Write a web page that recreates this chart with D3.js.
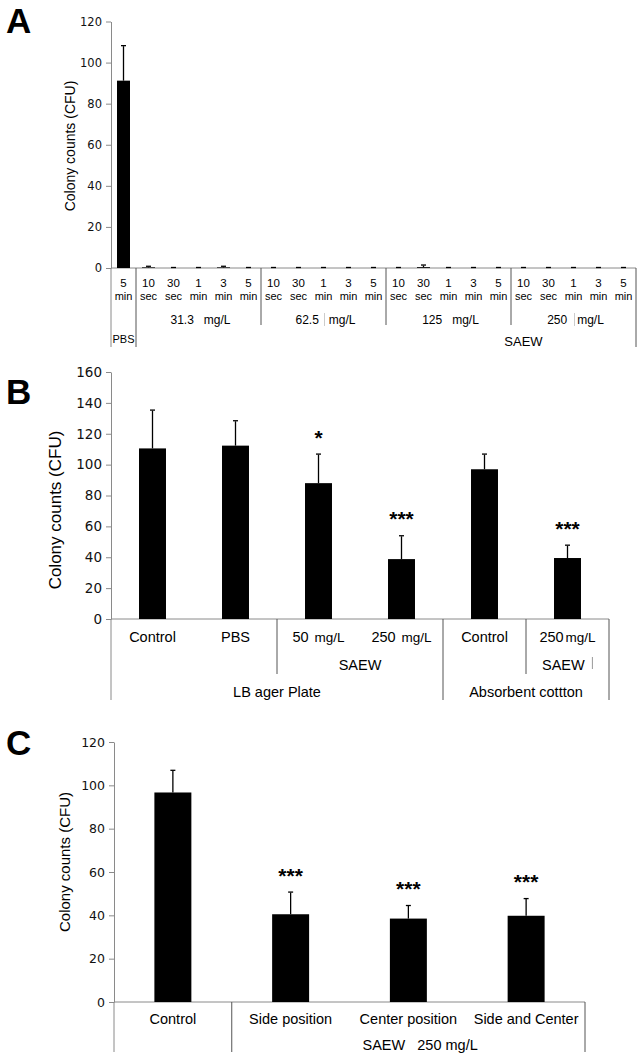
<!DOCTYPE html>
<html>
<head>
<meta charset="utf-8">
<script src="https://cdn.jsdelivr.net/npm/d3@7"></script>
<style>
  body { margin: 0; background: #fff; }
  text { font-family: "Liberation Sans", Arial, sans-serif; fill: #000; }
  .tick text { font-family: "DejaVu Sans", sans-serif; fill: #111; }
</style>
</head>
<body>
<div id="chart"></div>
<script>
// ---- Panel A: exposure time x concentration ----
const aNums = ["5","10","30","1","3","5","10","30","1","3","5","10","30","1","3","5","10","30","1","3","5"];
const aUnits = ["min","sec","sec","min","min","min","sec","sec","min","min","min","sec","sec","min","min","min","sec","sec","min","min","min"];
const aGroups = ["31.3", "62.5", "125", "250"];
const aValues = [91.2, 0.3, 0, 0, 0.3, 0, 0, 0, 0, 0, 0, 0, 0.4, 0, 0, 0, 0, 0, 0, 0, 0];
const aErrors = [16.8, 0.3, 0, 0, 0.3, 0, 0, 0, 0, 0, 0, 0, 0.8, 0, 0, 0, 0, 0, 0, 0, 0];
const aTicks = [0, 20, 40, 60, 80, 100, 120];

// ---- Panel B: plate vs absorbent cotton ----
const bLabels = ["Control", "PBS", "50", "250", "Control", "250"];
const bValues = [110.5, 112.3, 88, 38.8, 97, 39.5];
const bErrors = [24.5, 15.8, 18.5, 14.8, 9.5, 8];
const bStars = ["", "", "*", "***", "", "***"];
const bTicks = [0, 20, 40, 60, 80, 100, 120, 140, 160];

// ---- Panel C: position of SAEW ----
const cLabels = ["Control", "Side position", "Center position", "Side and Center"];
const cValues = [96.7, 40.5, 38.5, 39.8];
const cErrors = [10, 10, 5.8, 7.7];
const cStars = ["", "***", "***", "***"];
const cTicks = [0, 20, 40, 60, 80, 100, 120];

const width = 640, height = 1055;
const axisColor = "#8a8a8a";
const lineColor = "#555";

const svg = d3.select("#chart").append("svg")
    .attr("width", width)
    .attr("height", height)
    .style("background", "#fff");

// bars + error bars + significance stars
function drawBars(g, x, y, values, errors, stars, capW) {
    const idx = d3.range(values.length);
    g.selectAll(".bar").data(idx).enter().append("rect")
        .attr("x", i => x(i))
        .attr("y", i => y(values[i]))
        .attr("width", x.bandwidth())
        .attr("height", i => y(0) - y(values[i]))
        .attr("fill", "#000");
    g.selectAll(".err").data(idx).enter().append("line")
        .attr("x1", i => x(i) + x.bandwidth() / 2)
        .attr("x2", i => x(i) + x.bandwidth() / 2)
        .attr("y1", i => y(values[i]))
        .attr("y2", i => y(values[i] + errors[i]))
        .attr("stroke", "#000").attr("stroke-width", 1.3);
    g.selectAll(".cap").data(idx).enter().append("line")
        .attr("x1", i => x(i) + x.bandwidth() / 2 - capW / 2)
        .attr("x2", i => x(i) + x.bandwidth() / 2 + capW / 2)
        .attr("y1", i => y(values[i] + errors[i]) - 0.5)
        .attr("y2", i => y(values[i] + errors[i]) - 0.5)
        .attr("stroke", "#000").attr("stroke-width", 1.3);
    if (stars) {
        g.selectAll(".star").data(idx.filter(i => stars[i])).enter().append("text")
            .attr("x", i => x(i) + x.bandwidth() / 2)
            .attr("y", i => y(values[i] + errors[i]) - 10)
            .attr("text-anchor", "middle")
            .style("font-size", "21px")
            .style("font-weight", "bold")
            .text(i => stars[i]);
    }
}

function drawYAxis(g, y, ticks, fontSize) {
    const ax = g.append("g")
        .attr("transform", `translate(${y.xPos},0)`)
        .call(d3.axisLeft(y).tickValues(ticks).tickSize(5).tickSizeOuter(0).tickPadding(4));
    ax.select(".domain").attr("stroke", axisColor);
    ax.selectAll(".tick line").attr("stroke", axisColor);
    ax.selectAll(".tick text").style("font-size", fontSize + "px");
    return ax;
}

function vline(g, xv, y1, y2, color) {
    g.append("line").attr("x1", xv).attr("x2", xv).attr("y1", y1).attr("y2", y2)
        .attr("stroke", color || lineColor).attr("stroke-width", 1);
}

function panelLetter(txt, yb) {
    svg.append("text").attr("x", 6).attr("y", yb)
        .style("font-size", "35px").style("font-weight", "bold").style("fill", "#000")
        .text(txt);
}

function yTitle(g, xc, yc, size) {
    g.append("text")
        .attr("transform", `translate(${xc},${yc}) rotate(-90)`)
        .attr("text-anchor", "middle")
        .attr("dy", "0.35em")
        .style("font-size", size + "px")
        .text("Colony counts (CFU)");
}

// ================= Panel A =================
{
    const g = svg.append("g");
    const x = d3.scaleBand().domain(d3.range(aValues.length)).range([111, 636])
        .paddingInner(0.48).paddingOuter(0.24);
    const y = d3.scaleLinear().domain([0, 120]).range([268, 21.5]);
    y.xPos = 111;
    const y0 = y(0);
    const step = x.step();
    const left = x.range()[0], right = x.range()[1];

    drawYAxis(g, y, aTicks, 11.5);
    g.append("line").attr("x1", left).attr("x2", right).attr("y1", y0).attr("y2", y0)
        .attr("stroke", axisColor);
    drawBars(g, x, y, aValues, aErrors, null, 5);

    // category table lines
    vline(g, left, y0, 347, axisColor);
    vline(g, left + step, y0, 347);
    aGroups.forEach((d, k) => {
        if (k > 0) vline(g, left + step * (1 + 5 * k), y0, 325);
    });
    vline(g, right, y0, 347);

    g.selectAll(".num").data(aNums).enter().append("text")
        .attr("x", (d, i) => x(i) + x.bandwidth() / 2)
        .attr("y", y0 + 19)
        .attr("text-anchor", "middle")
        .style("font-size", "11.5px")
        .text(d => d);
    g.selectAll(".unit").data(aUnits).enter().append("text")
        .attr("x", (d, i) => x(i) + x.bandwidth() / 2)
        .attr("y", y0 + 32)
        .attr("text-anchor", "middle")
        .style("font-size", "11px")
        .text(d => d);
    aGroups.forEach((d, k) => {
        const cx = left + step * (1 + 5 * k + 2.5);
        g.append("text")
            .attr("x", cx + 2).attr("y", y0 + 56)
            .attr("text-anchor", "middle")
            .style("font-size", "12px")
            .style("white-space", "pre")
            .text(d + "   mg/L");
    });
    // small stray marks as in the original
    [1, 3].forEach(k => {
        const cx = left + step * (1 + 5 * k + 2.5);
        vline(g, cx + 1, y0 + 45, y0 + 58, "#ccc");
    });
    g.append("text").attr("x", left + step / 2).attr("y", y0 + 75)
        .attr("text-anchor", "middle").style("font-size", "11px").text("PBS");
    g.append("text").attr("x", left + step * 16.5).attr("y", y0 + 78)
        .attr("text-anchor", "middle").style("font-size", "13px").text("SAEW");

    yTitle(g, 70, 146, 14);
}

// ================= Panel B =================
{
    const g = svg.append("g");
    const x = d3.scaleBand().domain(d3.range(bValues.length)).range([111, 609])
        .paddingInner(0.675).paddingOuter(0.3375);
    const y = d3.scaleLinear().domain([0, 160]).range([619, 372]);
    y.xPos = 111;
    const y0 = y(0);
    const step = x.step();
    const left = x.range()[0], right = x.range()[1];

    drawYAxis(g, y, bTicks, 13.5);
    g.append("line").attr("x1", left).attr("x2", right).attr("y1", y0).attr("y2", y0)
        .attr("stroke", axisColor);
    drawBars(g, x, y, bValues, bErrors, bStars, 5);

    vline(g, left, y0, 700, axisColor);
    vline(g, left + step * 2, y0, 674);
    vline(g, left + step * 4, y0, 700);
    vline(g, left + step * 5, y0, 674);
    vline(g, right, y0, 700);

    const lab = g.selectAll(".lab").data(bLabels).enter().append("text")
        .attr("x", (d, i) => x(i) + x.bandwidth() / 2)
        .attr("y", y0 + 23)
        .attr("text-anchor", "middle")
        .style("font-size", "14.5px");
    lab.append("tspan").text(d => d);
    lab.filter((d, i) => i === 2 || i === 3 || i === 5).append("tspan")
        .attr("dx", (d, i) => i === 2 ? 2 : 6)
        .style("font-size", "13.5px")
        .text("mg/L");

    g.append("text").attr("x", left + step * 3).attr("y", y0 + 51)
        .attr("text-anchor", "middle").style("font-size", "14.5px").text("SAEW");
    g.append("text").attr("x", left + step * 5.45).attr("y", y0 + 51)
        .attr("text-anchor", "middle").style("font-size", "14.5px").text("SAEW");
    vline(g, left + step * 5.8, y0 + 38, y0 + 50, "#999");
    g.append("text").attr("x", left + step * 2).attr("y", y0 + 78)
        .attr("text-anchor", "middle").style("font-size", "14.5px").text("LB ager Plate");
    g.append("text").attr("x", left + step * 5).attr("y", y0 + 78)
        .attr("text-anchor", "middle").style("font-size", "14.5px").text("Absorbent cottton");

    yTitle(g, 55, 510, 17);
}

// ================= Panel C =================
{
    const g = svg.append("g");
    const x = d3.scaleBand().domain(d3.range(cValues.length)).range([114, 585])
        .paddingInner(0.686).paddingOuter(0.343);
    const y = d3.scaleLinear().domain([0, 120]).range([1002, 742]);
    y.xPos = 114;
    const y0 = y(0);
    const step = x.step();
    const left = x.range()[0], right = x.range()[1];

    drawYAxis(g, y, cTicks, 12.5);
    g.append("line").attr("x1", left).attr("x2", right).attr("y1", y0).attr("y2", y0)
        .attr("stroke", axisColor);
    drawBars(g, x, y, cValues, cErrors, cStars, 5);

    vline(g, left, y0, 1052, axisColor);
    vline(g, left + step, y0, 1052);
    vline(g, right, y0, 1052);

    g.selectAll(".lab").data(cLabels).enter().append("text")
        .attr("x", (d, i) => x(i) + x.bandwidth() / 2)
        .attr("y", y0 + 22)
        .attr("text-anchor", "middle")
        .style("font-size", "14.5px")
        .text(d => d);
    g.append("text").attr("x", left + step * 2.6).attr("y", y0 + 48)
        .attr("text-anchor", "middle").style("font-size", "14.5px").style("white-space", "pre")
        .text("SAEW   250 mg/L");

    yTitle(g, 65, 862, 15);
}

panelLetter("A", 33);
panelLetter("B", 404);
panelLetter("C", 755);
</script>
</body>
</html>
